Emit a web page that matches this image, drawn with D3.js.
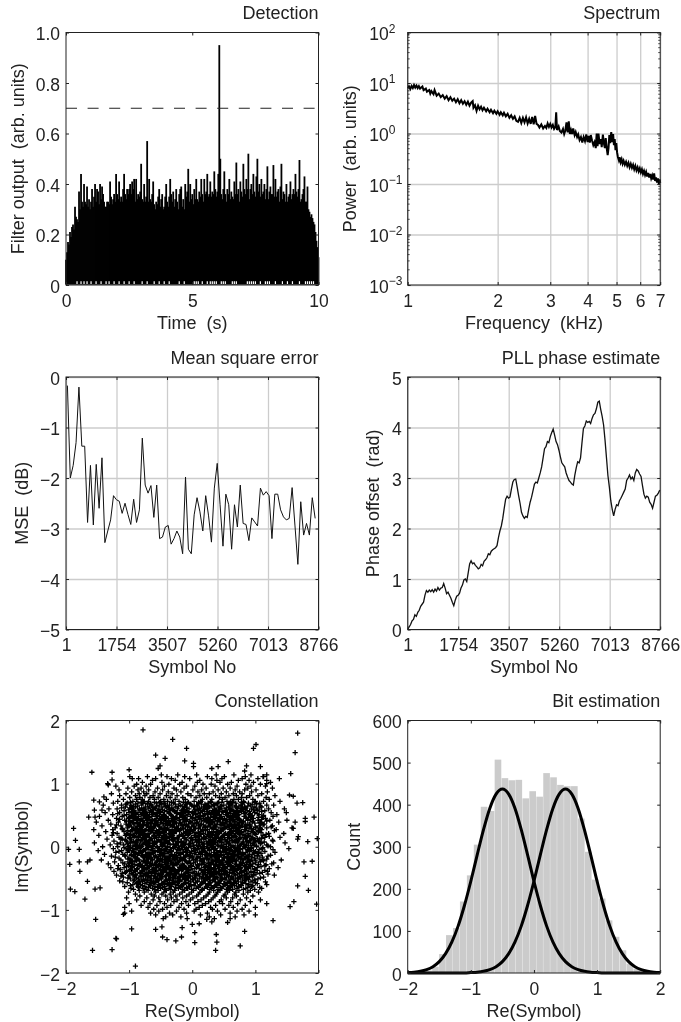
<!DOCTYPE html>
<html>
<head>
<meta charset="utf-8">
<script src="https://cdn.jsdelivr.net/npm/d3@7"></script>
<style>
  body { margin: 0; background: #fff; }
  svg { display: block; filter: blur(0.4px); }
  text { font-family: "Liberation Sans", Arial, sans-serif; font-size: 18px; fill: #222; white-space: pre; }
  .tick line { stroke: #222; }
  .grid .tick line { stroke: #ccc; stroke-width: 1.3; }
  .grid .domain, .box .domain { display: none; }
</style>
</head>
<body>
<div id="chart"></div>
<script>
// Detection: peak of the filter output, one value per screen column of the 0-10 s axis
const detectPeaks = [
  .10,.13,.17,.16,.21,.19,.23,.24,.22,.31, .27,.26,.25,.37,.30,.44,.33,.31,.40,.33,
  .32,.39,.31,.34,.30,.33,.38,.31,.35,.40, .33,.38,.37,.32,.40,.34,.39,.36,.33,.31,
  .31,.33,.33,.32,.41,.35,.32,.34,.36,.33, .44,.36,.34,.41,.33,.35,.33,.38,.44,.36,
  .34,.38,.36,.38,.40,.36,.41,.38,.42,.33, .42,.34,.36,.35,.37,.48,.34,.33,.40,.33,
  .35,.57,.33,.42,.34,.33,.36,.41,.32,.30, .33,.32,.35,.38,.31,.34,.36,.30,.31,.35,
  .40,.33,.31,.35,.42,.36,.33,.37,.31,.34, .38,.33,.30,.36,.38,.39,.31,.34,.30,.40,
  .35,.37,.46,.33,.40,.34,.36,.32,.38,.34, .42,.34,.33,.37,.35,.42,.36,.33,.42,.36,
  .37,.44,.35,.36,.41,.35,.37,.36,.45,.38, .35,.37,.44,.95,.50,.36,.34,.38,.45,.36,
  .33,.38,.36,.42,.34,.37,.35,.34,.41,.36, .485,.36,.38,.33,.41,.37,.35,.48,.38,.36,
  .42,.38,.52,.34,.38,.40,.36,.44,.37,.35, .43,.50,.37,.40,.35,.42,.36,.37,.40,.34,
  .38,.47,.34,.37,.39,.36,.36,.475,.35,.42, .35,.37,.38,.33,.39,.48,.34,.37,.36,.33,
  .40,.33,.35,.36,.41,.34,.36,.38,.36,.44, .37,.35,.38,.495,.33,.34,.36,.38,.43,.33,
  .33,.39,.30,.29,.27,.28,.265,.25,.24,.21, .175,.15,.11
];
// columns where the white shows through at the bottom of the trace
const detectGaps = [11,15,18,21,25,30,35,40,43,48,53,58,63,68,76,81,88,93,98,103,113,118,
  128,130,132,136,141,144,146,148,150,155,157,159,166,168,170,181,183,185,187,189,194,199,201,203,209,216,221,226,233,239,241,243,245,247];
const detectThreshold = 0.7;

// Spectrum: [frequency kHz, log10 power]
const spectrum = [
  [1.00,.90],[1.01,.93],[1.02,.88],[1.03,.94],[1.04,.90],[1.05,.96],[1.06,.91],[1.07,.95],[1.08,.90],[1.09,.94],
  [1.10,.89],[1.12,.93],[1.13,.86],[1.15,.89],[1.16,.83],[1.18,.86],[1.19,.79],[1.20,.84],[1.22,.78],[1.23,.86],
  [1.25,.75],[1.27,.79],[1.29,.72],[1.31,.76],[1.33,.69],[1.35,.74],[1.37,.66],[1.39,.72],[1.41,.65],[1.43,.69],
  [1.45,.62],[1.47,.68],[1.49,.60],[1.51,.66],[1.53,.59],[1.55,.64],[1.57,.57],[1.59,.63],[1.61,.55],[1.63,.61],
  [1.65,.64],[1.66,.51],[1.68,.56],[1.70,.45],[1.72,.55],[1.74,.48],[1.76,.53],[1.78,.46],[1.80,.51],[1.83,.44],
  [1.85,.49],[1.88,.42],[1.90,.47],[1.93,.40],[1.95,.45],[1.98,.39],[2.00,.44],[2.03,.37],[2.05,.42],[2.08,.36],
  [2.10,.41],[2.13,.34],[2.16,.39],[2.19,.31],[2.22,.36],[2.25,.29],[2.28,.34],[2.31,.25],[2.34,.23],[2.37,.31],
  [2.40,.21],[2.43,.31],[2.46,.22],[2.49,.32],[2.52,.20],[2.55,.29],[2.58,.19],[2.61,.33],[2.64,.18],[2.67,.35],
  [2.70,.19],[2.73,.17],[2.76,.12],[2.80,.18],[2.84,.10],[2.88,.15],[2.91,.11],[2.94,.20],[2.97,.13],[3.00,.19],
  [3.03,.12],[3.06,.17],[3.09,.09],[3.12,.13],[3.14,.42],[3.16,.07],[3.20,.14],[3.23,.05],[3.27,.02],[3.31,.09],
  [3.34,-.01],[3.37,.06],[3.40,.22],[3.43,.02],[3.46,.24],[3.49,-.01],[3.52,.07],[3.55,-.01],[3.58,.10],[3.62,-.03],
  [3.65,.03],[3.69,-.07],[3.72,-.02],[3.76,-.13],[3.80,-.07],[3.84,-.18],[3.88,-.07],[3.92,-.15],[3.96,-.02],[4.00,-.17],
  [4.03,-.05],[4.07,-.18],[4.10,-.03],[4.14,-.14],[4.18,-.23],[4.22,-.17],[4.26,-.29],[4.29,.00],[4.32,-.25],[4.35,.00],
  [4.39,-.21],[4.43,-.11],[4.46,-.27],[4.50,-.02],[4.54,-.21],[4.57,-.29],[4.60,-.09],[4.64,-.31],[4.67,-.43],[4.70,-.29],
  [4.73,-.03],[4.76,-.19],[4.80,.03],[4.84,-.17],[4.87,-.01],[4.90,-.23],[4.93,-.11],[4.96,-.33],[4.99,-.19],[5.02,-.37],
  [5.05,-.46],[5.09,-.53],[5.12,-.47],[5.16,-.57],[5.20,-.51],[5.24,-.60],[5.28,-.54],[5.33,-.62],[5.38,-.56],[5.43,-.64],
  [5.48,-.58],[5.53,-.67],[5.58,-.60],[5.63,-.68],[5.68,-.62],[5.73,-.71],[5.78,-.64],[5.83,-.73],[5.88,-.67],[5.93,-.75],
  [5.98,-.69],[6.03,-.77],[6.08,-.71],[6.13,-.80],[6.18,-.74],[6.23,-.82],[6.28,-.76],[6.33,-.85],[6.38,-.78],[6.43,-.87],
  [6.48,-.80],[6.53,-.89],[6.58,-.83],[6.63,-.91],[6.68,-.79],[6.73,-.94],[6.78,-.87],[6.83,-.97],[6.88,-.89],[6.93,-1.0],
  [6.97,-.91],[7.00,-.98]
];

// Mean square error, one value every 100 symbols from symbol 50
const mseValues = [
  -0.17,-2.0,-1.75,-1.3,-0.2,-1.37,-1.37,-2.88,-1.75,-2.93,-1.73,-2.6,-1.6,-3.28,-3.05,-2.83,-2.35,-2.43,-2.46,-2.7,
  -2.5,-2.72,-2.92,-2.42,-2.88,-2.63,-1.21,-2.14,-2.3,-2.15,-2.78,-2.14,-3.2,-3.17,-2.97,-2.94,-3.31,-3.2,-3.05,-3.17,
  -3.5,-1.98,-3.41,-3.5,-2.73,-2.39,-2.67,-3.05,-2.35,-2.75,-3.27,-2.2,-1.71,-2.53,-3.35,-2.32,-2.53,-3.41,-2.53,-2.97,
  -2.14,-2.9,-2.92,-3.24,-2.79,-2.87,-2.95,-2.2,-2.34,-2.27,-2.35,-3.2,-2.32,-2.32,-2.63,-2.77,-2.83,-2.8,-2.19,-2.95,
  -3.71,-2.47,-3.13,-2.9,-3.13,-2.39,-2.8
];

// PLL phase, one value every 50 symbols from symbol 1
const pllValues = [
  0,.05,.10,.17,.2,.29,.26,.34,.38,.46,.50,.54,.68,.77,.74,.78,.75,.79,.74,.8,
  .76,.83,.78,.82,.83,.91,.82,.71,.74,.68,.62,.54,.47,.58,.66,.68,.72,.82,.88,.98,
  1.0,.95,1.12,1.3,1.36,1.3,1.32,1.27,1.24,1.2,1.22,1.29,1.26,1.35,1.38,1.42,1.5,1.48,1.55,1.58,
  1.6,1.62,1.66,1.82,1.95,2.05,2.2,2.4,2.58,2.64,2.6,2.62,2.78,2.92,2.97,2.98,2.82,2.65,2.5,2.32,
  2.25,2.2,2.24,2.22,2.38,2.52,2.62,2.75,2.88,2.92,2.9,3.0,3.1,3.22,3.4,3.58,3.62,3.72,3.7,3.82,
  3.9,3.97,3.85,3.72,3.66,3.55,3.42,3.3,3.26,3.22,3.1,3.02,2.95,2.92,2.88,2.86,3.05,3.2,3.32,3.3,
  3.4,3.7,3.98,4.03,4.13,4.1,4.12,4.08,4.18,4.25,4.28,4.37,4.5,4.52,4.36,4.22,4.05,3.75,3.4,3.05,
  2.82,2.55,2.38,2.25,2.38,2.47,2.45,2.55,2.6,2.66,2.72,2.78,2.95,3.0,3.06,2.98,3.02,2.95,3.1,3.17,
  3.14,3.08,3.03,2.85,2.68,2.6,2.64,2.62,2.52,2.48,2.4,2.52,2.64,2.66,2.7,2.76
];
const symbolTicks = [1, 1754, 3507, 5260, 7013, 8766];

// Constellation: isolated points as [re, im]
const cloudOutliers = [
  [-.78,1.85],[-.31,1.70],[-.09,1.56],[-.58,1.45],[-.43,1.40],[-.12,1.36],[.02,1.32],[.02,1.27],[-.51,1.28],[-.54,1.24],
  [1.67,1.80],[1.63,1.49],[1.01,1.62],[.97,1.56],[.57,1.35],[.41,1.27],[.31,1.24],[.86,1.28],[.83,1.20],[1.08,1.27],
  [-1.59,1.18],[-1.27,1.18],[-1.0,1.22],[-.99,1.11],[-.85,1.08],[-1.34,1.0],[-1.33,.98],[-1.27,1.06],[-1.40,.79],[-1.56,.74],
  [-1.47,.71],[-1.55,.58],[-1.43,.58],[-1.64,.47],[-1.54,.47],[-1.88,.29],[-1.85,.10],[-1.96,-.04],[-1.79,-.04],[-1.94,-.28],
  [-1.79,-.24],[-1.78,-.39],[-1.66,-.24],[-1.62,-.21],[-1.66,-.55],[-1.93,-.67],[-1.86,-.71],[-1.70,-.83],[-1.54,-.67],[-1.46,-.65],
  [-1.53,-1.15],[-1.21,-1.45],[-1.20,-1.46],[-1.58,-1.64],[-1.27,-1.63],[-.90,-1.89],[-.96,-1.30],[-1.09,-1.07],[-.48,-1.27],[-.58,-1.31],
  [-.47,-1.43],[-.40,-1.47],[-.26,-1.49],[-.17,-1.43],[.04,-1.52],[.04,-1.36],[.37,-1.64],[.39,-1.51],[.38,-1.39],[.76,-1.57],
  [.83,-1.34],[1.28,-1.17],[1.0,-1.08],[.11,-1.22],[0,-1.23],[-.16,-1.28],[.23,-1.15],[.56,-1.2],[.6,-1.14],[.31,-1.19],
  [1.55,-.95],[1.61,-.87],[1.67,-.62],[1.84,-.69],[1.79,-.47],[1.90,-.23],[1.77,-.24],[1.97,-.91],[1.98,.13],[1.83,.08],
  [1.93,.47],[1.79,.45],[1.79,.40],[1.75,.70],[1.66,.69],[1.6,.8],[1.54,.82],[1.56,1.16],[1.38,1.08],[1.18,1.14],
  [1.13,1.11],[1.18,1.0],[1.68,.16],[1.67,.12],[1.63,.39],[1.49,.54],[1.6,.29]
];
// Constellation cloud, too dense to separate. Each row: Im first, then the Re of its points, all in hundredths
const cloudRows = [
  [114,-49,-23,7,38,66,93],
  [111,-71,-40,-12,24,51,84,112],
  [108,-95,-58,-33,-4,31,47,79,104],
  [105,-63,-27,12,39,73,90,118],
  [102,-110,-79,-48,-16,8,44,62,97,124],
  [99,-88,-66,-37,-20,17,30,56,85,108],
  [96,-121,-92,-73,-44,-9,4,36,71,93,116],
  [93,-102,-81,-55,-29,-13,22,49,60,88,127],
  [90,-116,-86,-69,-47,-25,1,15,41,68,83,101],
  [87,-96,-77,-59,-38,-18,9,33,54,75,94,119],
  [84,-128,-105,-84,-72,-51,-32,-7,19,27,46,65,79,110],
  [81,-115,-90,-75,-62,-41,-24,-2,12,37,58,70,91,104,131],
  [78,-99,-83,-67,-54,-35,-15,6,23,43,52,78,86,117],
  [75,-136,-109,-88,-79,-60,-45,-27,-11,16,31,48,66,73,96,122],
  [72,-118,-94,-76,-69,-50,-39,-21,3,14,29,55,61,81,100,113,139],
  [69,-125,-103,-86,-71,-57,-43,-30,-8,10,25,40,59,69,89,107],
  [66,-141,-112,-97,-80,-65,-52,-36,-19,-1,7,21,34,50,63,77,92,118,129],
  [63,-106,-90,-74,-62,-48,-41,-26,-12,2,18,28,44,57,68,83,98,110],
  [60,-132,-119,-95,-84,-70,-58,-53,-33,-23,-5,11,24,35,47,60,72,80,94,121,146],
  [57,-108,-92,-78,-66,-55,-44,-29,-17,-9,6,16,32,41,52,65,76,87,103,115],
  [54,-138,-115,-100,-86,-73,-61,-50,-37,-25,-14,0,13,27,38,49,56,71,84,99,125],
  [51,-126,-104,-91,-81,-68,-59,-46,-34,-20,-7,5,20,30,43,54,67,74,90,106,134],
  [48,-147,-111,-96,-85,-75,-64,-52,-42,-31,-16,-3,9,17,35,46,58,69,82,93,112,128],
  [45,-120,-101,-89,-78,-70,-57,-47,-38,-24,-12,1,14,26,37,51,62,73,86,97,116],
  [42,-133,-107,-94,-83,-72,-63,-54,-43,-33,-21,-10,4,19,28,42,53,64,77,88,104,123,150],
  [39,-152,-117,-98,-88,-76,-67,-56,-49,-36,-27,-13,-2,8,22,31,45,55,68,79,95,109,137],
  [36,-129,-105,-92,-82,-71,-60,-51,-40,-30,-18,-6,7,15,29,39,50,61,72,84,91,114],
  [33,-143,-113,-99,-87,-77,-66,-58,-45,-35,-22,-11,3,12,25,36,47,57,70,80,92,106,127],
  [30,-122,-103,-90,-80,-69,-62,-48,-39,-28,-15,-4,10,21,33,44,52,65,75,86,101,118,158],
  [27,-156,-126,-110,-95,-84,-73,-64,-53,-41,-32,-19,-8,2,16,24,38,48,59,71,83,97,110,133],
  [24,-137,-108,-97,-86,-78,-65,-55,-46,-34,-25,-9,0,13,27,34,46,60,69,78,93,105],
  [21,-119,-102,-91,-81,-70,-59,-50,-37,-29,-14,-5,6,18,30,41,53,63,74,88,99,121,145],
  [18,-148,-127,-106,-94,-83,-74,-61,-52,-43,-31,-20,-7,4,11,26,37,49,58,67,82,90,112],
  [15,-116,-100,-89,-79,-68,-57,-47,-36,-24,-12,-1,9,20,32,42,51,62,76,85,96,115,139],
  [12,-135,-111,-96,-85,-75,-66,-54,-44,-33,-22,-10,5,15,28,35,47,56,70,81,94,107],
  [9,-124,-104,-93,-82,-72,-63,-51,-40,-27,-17,-3,8,22,31,43,55,64,73,87,100,128],
  [6,-155,-114,-98,-88,-76,-67,-58,-45,-38,-23,-13,1,12,25,36,46,59,68,79,92,109,147],
  [3,-130,-109,-91,-84,-71,-60,-49,-35,-26,-16,-6,7,17,29,40,50,61,77,86,98,118],
  [0,-142,-118,-101,-90,-80,-69,-56,-48,-39,-28,-15,-2,10,19,33,44,54,65,74,83,102,124],
  [-3,-125,-105,-95,-86,-73,-62,-53,-42,-30,-20,-9,3,14,24,37,48,57,71,80,93,111,153],
  [-6,-149,-112,-99,-83,-77,-64,-55,-43,-34,-21,-8,4,18,27,39,52,60,69,88,97],
  [-9,-121,-103,-92,-81,-70,-61,-50,-37,-25,-14,-4,11,21,34,45,53,66,75,85,105,131],
  [-12,-139,-110,-96,-87,-74,-65,-52,-46,-32,-19,-7,6,16,30,41,49,63,72,82,95],
  [-15,-128,-106,-93,-79,-68,-58,-47,-36,-26,-11,0,13,23,35,43,56,67,78,90,104,120],
  [-18,-116,-100,-89,-76,-66,-54,-41,-31,-18,-5,8,20,28,38,51,62,73,84,99],
  [-21,-144,-113,-97,-84,-72,-63,-49,-39,-24,-12,2,15,26,36,47,59,70,81,94,112,141],
  [-24,-123,-102,-91,-78,-69,-57,-44,-33,-22,-9,5,17,31,42,55,64,76,87,108],
  [-27,-133,-107,-94,-82,-71,-60,-51,-38,-27,-16,-3,12,25,34,46,58,68,79,96,126],
  [-30,-117,-101,-86,-75,-64,-53,-40,-29,-13,-1,9,22,37,48,61,74,83,92,115],
  [-33,-129,-108,-95,-80,-70,-56,-46,-35,-20,-6,7,19,29,43,52,65,77,89,103,136],
  [-36,-114,-98,-88,-76,-62,-50,-42,-28,-15,-2,14,24,35,47,60,71,85,99],
  [-39,-124,-104,-90,-79,-67,-57,-45,-32,-23,-8,4,18,30,41,53,66,78,93,119],
  [-42,-111,-96,-83,-73,-59,-48,-37,-25,-11,1,10,27,36,50,63,75,87,107],
  [-45,-120,-100,-89,-77,-65,-52,-41,-30,-17,-5,6,21,33,45,56,69,82,97,130],
  [-48,-109,-92,-81,-70,-58,-47,-34,-19,-9,3,16,28,39,54,62,76,91,113],
  [-51,-98,-85,-74,-61,-49,-38,-26,-12,0,11,24,37,48,60,72,86,104],
  [-54,-115,-93,-79,-66,-55,-43,-31,-21,-6,8,20,32,44,58,68,83,96],
  [-57,-103,-87,-72,-60,-46,-36,-24,-10,5,17,29,42,55,66,80,100],
  [-60,-94,-82,-68,-53,-40,-27,-14,-2,13,26,38,51,63,77,90,118],
  [-63,-107,-86,-75,-59,-44,-33,-18,-4,9,23,35,49,61,73,94],
  [-66,-97,-78,-63,-50,-37,-22,-7,6,19,31,47,57,71,85,110],
  [-69,-84,-70,-54,-41,-28,-12,2,15,34,44,59,74,92],
  [-72,-101,-76,-58,-45,-30,-16,-1,12,27,40,56,69,88,105],
  [-75,-90,-65,-48,-35,-20,-5,10,25,38,52,67,81],
  [-78,-83,-60,-42,-26,-9,7,22,36,50,70,96],
  [-81,-104,-72,-53,-33,-15,1,18,33,54,64,86],
  [-84,-88,-62,-39,-24,-3,14,30,46,76,108],
  [-87,-76,-51,-29,-10,9,26,43,61,92],
  [-90,-100,-67,-44,-17,4,21,48,72,118],
  [-93,-81,-56,-34,-6,16,37,58,84],
  [-96,-107,-70,-40,-21,11,29,65,100],
  [-99,-61,-47,-13,6,32,52,79],
  [-102,-96,-53,-25,3,40,71,90],
  [-105,-107,-66,-36,-9,24,60],
  [-108,-58,-31,13,45,82],
  [-111,-42,-18,27,68],
  [-114,-46,-8,35]
];
// Second pass through the black middle of the cloud, rows half way between the ones above
const cloudCoreRows = [
  [70.5,-98,-81,-78,-60,-52,-33,-30,-14,-6,10,13,30,42,47,64,78,82,99],
  [67.5,-105,-90,-71,-66,-48,-45,-27,-10,-3,15,20,36,39,57,61,80,95,102],
  [64.5,-93,-87,-68,-56,-42,-39,-22,-16,3,8,26,31,45,60,70,74,88,108],
  [61.5,-112,-99,-80,-63,-59,-38,-32,-13,-8,12,22,25,41,54,58,79,85,101],
  [58.5,-101,-83,-76,-61,-47,-35,-31,-15,4,10,19,37,43,59,63,81,97,106],
  [55.5,-96,-94,-75,-65,-51,-40,-28,-11,-5,16,23,33,47,53,70,78,91,110],
  [52.5,-118,-89,-79,-62,-56,-36,-24,-18,2,9,25,34,40,61,69,83,92,103],
  [49.5,-108,-97,-77,-71,-55,-44,-33,-13,-10,12,18,36,39,56,64,72,95,113],
  [46.5,-100,-92,-74,-68,-49,-41,-26,-20,0,6,24,29,44,60,66,85,89,105],
  [43.5,-115,-87,-81,-64,-50,-45,-29,-15,-8,11,21,33,48,55,71,75,92,110],
  [40.5,-104,-99,-79,-60,-58,-37,-31,-12,-4,15,23,36,40,59,67,81,96,118],
  [37.5,-93,-86,-70,-65,-46,-42,-25,-19,1,7,27,30,49,52,74,78,99,107],
  [34.5,-120,-101,-78,-73,-54,-39,-34,-16,-9,13,18,35,44,63,66,87,90,112],
  [31.5,-96,-84,-69,-61,-52,-32,-28,-7,-1,20,28,38,55,58,76,83,100,125],
  [28.5,-111,-89,-82,-63,-48,-43,-23,-14,5,10,31,34,50,62,68,90,94,108],
  [25.5,-102,-94,-75,-67,-57,-37,-26,-20,-3,17,21,41,46,65,73,85,104,130],
  [22.5,-125,-88,-80,-62,-51,-44,-30,-11,3,9,27,39,43,61,72,78,96,109],
  [19.5,-104,-98,-76,-70,-53,-35,-33,-17,-6,14,24,32,51,56,79,82,101,117],
  [16.5,-92,-85,-72,-59,-46,-41,-21,-15,6,12,29,38,48,66,69,88,93,122],
  [13.5,-113,-99,-77,-64,-60,-40,-29,-13,-2,18,22,42,45,59,75,84,103,110],
  [10.5,-106,-86,-81,-68,-49,-36,-31,-9,0,11,33,37,52,63,70,91,98,127],
  [7.5,-97,-90,-74,-56,-50,-42,-24,-18,7,15,26,40,47,68,71,86,105,114],
  [4.5,-119,-103,-78,-69,-61,-39,-30,-11,-4,19,23,34,54,57,78,81,96,108],
  [1.5,-94,-87,-71,-63,-47,-43,-22,-17,2,10,28,41,46,60,72,89,102,120],
  [-1.5,-108,-99,-82,-65,-55,-35,-27,-12,-6,16,25,31,50,62,67,84,94,112],
  [-4.5,-101,-89,-74,-70,-48,-41,-24,-15,5,8,30,35,53,59,76,87,106,128],
  [-7.5,-116,-93,-79,-59,-52,-37,-33,-10,-1,14,20,44,49,64,73,91,100,115],
  [-10.5,-90,-85,-67,-62,-45,-40,-21,-18,3,13,27,38,55,58,77,80,98,109],
  [-13.5,-107,-97,-81,-72,-50,-34,-28,-9,-3,22,25,36,46,68,71,88,103,124],
  [-16.5,-122,-91,-76,-60,-56,-43,-23,-14,0,9,31,42,51,61,74,85,94,111],
  [-19.5,-102,-86,-70,-64,-47,-38,-29,-16,6,17,23,40,57,65,79,89,107,118],
  [-22.5,-95,-88,-77,-55,-52,-35,-20,-11,-4,12,33,37,49,63,69,92,101,113],
  [-25.5,-110,-99,-73,-66,-43,-41,-27,-7,2,19,26,44,54,60,80,86,100,129],
  [-28.5,-91,-84,-65,-58,-48,-32,-24,-15,8,15,30,39,50,70,75,90,105,117],
  [-31.5,-104,-96,-79,-68,-53,-39,-18,-12,-1,21,27,41,56,62,72,84,95,109],
  [-34.5,-118,-87,-72,-61,-44,-37,-30,-10,4,11,34,36,52,67,76,89,99,122],
  [-37.5,-99,-92,-78,-57,-51,-33,-22,-17,-5,14,25,46,49,64,70,83,103,115],
  [-40.5,-106,-83,-69,-64,-46,-40,-26,-7,1,20,31,38,55,59,79,93,98,111],
  [-43.5,-94,-90,-75,-54,-49,-35,-21,-13,7,16,24,43,51,67,72,86,101,120],
  [-46.5,-113,-81,-71,-60,-42,-37,-28,-14,-3,12,29,35,57,63,78,90,95],
  [-49.5,-102,-88,-67,-56,-50,-31,-23,-8,5,18,22,40,47,69,74,84,108],
  [-52.5,-91,-77,-70,-53,-41,-36,-16,-11,2,27,33,46,52,65,80,89,99],
  [-55.5,-110,-83,-64,-58,-44,-29,-20,-3,8,15,36,41,59,73,77,93,116],
  [-58.5,-88,-75,-62,-48,-39,-32,-13,-6,21,25,43,50,61,70,85,103],
  [-61.5,-98,-79,-66,-51,-35,-22,-17,3,12,30,39,56,67,78,96],
  [-64.5,-85,-69,-55,-47,-26,-19,-9,10,24,34,45,60,74,88,107],
  [-67.5,-93,-73,-60,-43,-34,-15,-1,16,28,41,54,64,81,99]
];

// Bit estimation histogram and the two fitted curves
const histCenters = [-1.78,-1.67,-1.56,-1.45,-1.34,-1.23,-1.12,-1.01,-.90,-.79,-.68,-.57,-.46,-.35,-.24,-.13,-.02,.09,.20,.31,.42,.53,.64,.75,.86,.97,1.08,1.19,1.30,1.41,1.52,1.63];
const histCounts = [2,6,15,45,90,107,170,232,305,395,385,507,463,458,459,415,432,419,475,465,447,444,444,367,288,222,177,125,86,54,22,10];
const curveRe = [-2,-1.9,-1.8,-1.7,-1.6,-1.5,-1.4,-1.3,-1.2,-1.1,-1,-.9,-.8,-.7,-.6,-.5,-.4,-.3,-.2,-.1,0,.1,.2,.3,.4,.5,.6,.7,.8,.9,1,1.1,1.2,1.3,1.4,1.5,1.6,1.7,1.8,1.9,2];
const curveLeft = [1,2,4,8,15,27,46,74,112,161,218,280,340,391,425,437,425,391,340,280,218,161,112,74,46,27,15,8,4,2,1,0,0,0,0,0,0,0,0,0,0];
const curveRight = [0,0,0,0,0,0,0,0,0,0,1,2,4,8,15,27,46,74,112,161,218,280,340,391,425,437,425,391,340,280,218,161,112,74,46,27,15,8,4,2,1];

const svg = d3.select("#chart").append("svg")
    .attr("width", 681)
    .attr("height", 1022);

const plotSize = 252.5;

// Frame, inward ticks on all four sides, optional grid, labels
function panel(p) {
    const g = svg.append("g").attr("transform", `translate(${p.left},${p.top})`);
    const xScale = p.x.range([0, plotSize]);
    const yScale = p.y.range([plotSize, 0]);

    if (p.grid) {
        g.append("g").attr("class", "grid")
            .attr("transform", `translate(0,${plotSize})`)
            .call(d3.axisBottom(xScale).tickValues(p.xTicks).tickSize(-plotSize).tickFormat(""));
        g.append("g").attr("class", "grid")
            .call(d3.axisLeft(yScale).tickValues(p.yTicks).tickSize(-plotSize).tickFormat(""));
    }

    const body = g.append("g");

    g.append("g").attr("class", "box")
        .call(d3.axisTop(xScale).tickValues(p.xTicks).tickSize(-3).tickFormat(""));
    g.append("g").attr("class", "box")
        .attr("transform", `translate(${plotSize},0)`)
        .call(d3.axisRight(yScale).tickValues(p.yTicks).tickSize(-3).tickFormat(""));
    g.append("g").attr("class", "box")
        .attr("transform", `translate(0,${plotSize})`)
        .call(d3.axisBottom(xScale).tickValues(p.xTicks).tickSize(-3).tickPadding(9.5).tickFormat(p.xFormat || (d => String(d).replace("-", "\u2212"))));
    const yAxis = g.append("g").attr("class", "box")
        .call(d3.axisLeft(yScale).tickValues(p.yTicks).tickSize(-3).tickPadding(6).tickFormat(p.yFormat || (d => String(d).replace("-", "\u2212"))));
    yAxis.selectAll(".tick text").attr("dy", "0.4em");

    g.append("rect")
        .attr("width", plotSize).attr("height", plotSize)
        .attr("fill", "none").attr("stroke", "#222").attr("stroke-width", 1);
    g.selectAll(".tick text").style("font-size", "17.5px").attr("fill", "#222");

    g.append("text")
        .attr("x", plotSize).attr("y", -13.5)
        .attr("text-anchor", "end")
        .text(p.title);
    g.append("text")
        .attr("x", plotSize / 2 + (p.xLabelShift || 0)).attr("y", plotSize + 43.5)
        .attr("text-anchor", "middle")
        .text(p.xLabel);
    g.append("text")
        .attr("transform", `translate(${p.yLabelX},${plotSize / 2 + (p.yLabelShift || 0)}) rotate(-90)`)
        .attr("text-anchor", "middle")
        .text(p.yLabel);

    return { g, body, xScale, yScale, yAxis };
}

// ---- Detection
const pDetect = panel({
    left: 66, top: 32.5, title: "Detection", xLabel: "Time  (s)", yLabel: "Filter output  (arb. units)",
    x: d3.scaleLinear().domain([0, 10]), y: d3.scaleLinear().domain([0, 1]),
    xTicks: [0, 5, 10], yTicks: [0, 0.2, 0.4, 0.6, 0.8, 1],
    yFormat: d => d === 0 ? "0" : d3.format(".1f")(d),
    yLabelX: -42, yLabelShift: 0
});
const detectX = i => pDetect.xScale(i * 10 / (detectPeaks.length - 1));
pDetect.body.selectAll(".peak")
    .data(detectPeaks)
    .join("line")
    .attr("class", "peak")
    .attr("x1", (d, i) => detectX(i))
    .attr("x2", (d, i) => detectX(i))
    .attr("y1", pDetect.yScale(0.002))
    .attr("y2", d => pDetect.yScale(d))
    .attr("stroke", "#000")
    .attr("stroke-width", 1.8);
pDetect.body.selectAll(".gap")
    .data(detectGaps)
    .join("line")
    .attr("class", "gap")
    .attr("x1", d => detectX(d))
    .attr("x2", d => detectX(d))
    .attr("y1", pDetect.yScale(0.004))
    .attr("y2", pDetect.yScale(0.015))
    .attr("stroke", "#fff")
    .attr("stroke-width", 1.2);
pDetect.body.append("line")
    .attr("x1", 0).attr("x2", plotSize)
    .attr("y1", pDetect.yScale(detectThreshold)).attr("y2", pDetect.yScale(detectThreshold))
    .attr("stroke", "#222").attr("stroke-width", 1)
    .attr("stroke-dasharray", "11 10.6");

// ---- Spectrum
const decades = [-3, -2, -1, 0, 1, 2];
const pSpec = panel({
    left: 407.7, top: 32.5, title: "Spectrum", xLabel: "Frequency  (kHz)", yLabel: "Power  (arb. units)",
    x: d3.scaleLog().domain([1, 7]), y: d3.scaleLog().domain([1e-3, 1e2]),
    xTicks: [1, 2, 3, 4, 5, 6, 7], yTicks: decades.map(d => Math.pow(10, d)),
    yFormat: () => "", grid: true,
    yLabelX: -51.5
});
pSpec.yAxis.selectAll(".tick text")
    .attr("text-anchor", "start").attr("x", -38.5).attr("dy", "0.4em")
    .each(function(d, i) {
        const t = d3.select(this);
        t.append("tspan").text("10");
        t.append("tspan").attr("dy", "-0.62em").style("font-size", "12px")
            .text(String(decades[i]).replace("-", "\u2212"));
    });
// minor log ticks on both sides
const minorY = decades.slice(0, -1).flatMap(d => d3.range(2, 10).map(m => m * Math.pow(10, d)));
pSpec.g.selectAll(".minor")
    .data(minorY.flatMap(v => [[0, 2, v], [plotSize, plotSize - 2, v]]))
    .join("line")
    .attr("x1", d => d[0]).attr("x2", d => d[1])
    .attr("y1", d => pSpec.yScale(d[2])).attr("y2", d => pSpec.yScale(d[2]))
    .attr("stroke", "#222").attr("stroke-width", 0.8);
pSpec.body.append("path")
    .datum(spectrum)
    .attr("fill", "none").attr("stroke", "#000").attr("stroke-width", 2)
    .attr("d", d3.line().x(d => pSpec.xScale(d[0])).y(d => pSpec.yScale(Math.pow(10, d[1]))));

// ---- Mean square error
const pMse = panel({
    left: 66, top: 377, title: "Mean square error", xLabel: "Symbol No", yLabel: "MSE  (dB)",
    x: d3.scaleLinear().domain([1, 8766]), y: d3.scaleLinear().domain([-5, 0]),
    xTicks: symbolTicks, yTicks: [-5, -4, -3, -2, -1, 0], grid: true,
    yLabelX: -38
});
pMse.body.append("path")
    .datum(mseValues)
    .attr("fill", "none").attr("stroke", "#111").attr("stroke-width", 1)
    .attr("d", d3.line().x((d, i) => pMse.xScale(50 + i * 100)).y(d => pMse.yScale(d)));

// ---- PLL phase estimate
const pPll = panel({
    left: 407.7, top: 377, title: "PLL phase estimate", xLabel: "Symbol No", yLabel: "Phase offset  (rad)",
    x: d3.scaleLinear().domain([1, 8766]), y: d3.scaleLinear().domain([0, 5]),
    xTicks: symbolTicks, yTicks: [0, 1, 2, 3, 4, 5], grid: true,
    yLabelX: -29
});
pPll.body.append("path")
    .datum(pllValues)
    .attr("fill", "none").attr("stroke", "#111").attr("stroke-width", 1.3)
    .attr("d", d3.line().x((d, i) => pPll.xScale(1 + i * 50)).y(d => pPll.yScale(d)));

// ---- Constellation
const pCloud = panel({
    left: 66, top: 720.5, title: "Constellation", xLabel: "Re(Symbol)", yLabel: "Im(Symbol)",
    x: d3.scaleLinear().domain([-2, 2]), y: d3.scaleLinear().domain([-2, 2]),
    xTicks: [-2, -1, 0, 1, 2], yTicks: [-2, -1, 0, 1, 2],
    yLabelX: -38
});
const cloudPoints = cloudOutliers
    .concat(cloudRows.concat(cloudCoreRows).flatMap(row => row.slice(1).map(re => [re / 100, row[0] / 100])));
const cross = d3.path();
cloudPoints.forEach(d => {
    const px = pCloud.xScale(d[0]), py = pCloud.yScale(d[1]);
    cross.moveTo(px - 2.6, py); cross.lineTo(px + 2.6, py);
    cross.moveTo(px, py - 2.6); cross.lineTo(px, py + 2.6);
});
pCloud.body.append("path")
    .attr("d", cross.toString())
    .attr("fill", "none").attr("stroke", "#000").attr("stroke-width", 1.3);

// ---- Bit estimation
const pHist = panel({
    left: 407.7, top: 720.5, title: "Bit estimation", xLabel: "Re(Symbol)", yLabel: "Count",
    x: d3.scaleLinear().domain([-2, 2]), y: d3.scaleLinear().domain([0, 600]),
    xTicks: [-2, -1, 0, 1, 2], yTicks: [0, 100, 200, 300, 400, 500, 600],
    yLabelX: -48
});
const binWidth = pHist.xScale(0.105) - pHist.xScale(0);
pHist.body.selectAll(".bar")
    .data(histCounts)
    .join("rect")
    .attr("class", "bar")
    .attr("x", (d, i) => pHist.xScale(histCenters[i]) - binWidth / 2)
    .attr("width", binWidth)
    .attr("y", d => pHist.yScale(d))
    .attr("height", d => plotSize - pHist.yScale(d))
    .attr("fill", "#cbcbcb");
[curveLeft, curveRight].forEach(curve => {
    pHist.body.append("path")
        .datum(curve)
        .attr("fill", "none").attr("stroke", "#000").attr("stroke-width", 3)
        .attr("d", d3.line().curve(d3.curveMonotoneX)
            .x((d, i) => pHist.xScale(curveRe[i]))
            .y(d => pHist.yScale(d)));
});
</script>
</body>
</html>
